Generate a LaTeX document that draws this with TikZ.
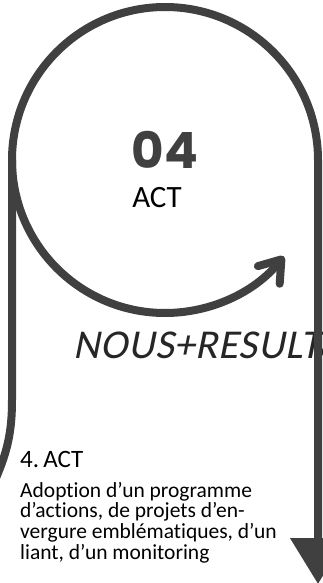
\documentclass[tikz,border=0pt]{standalone}
\usepackage{fontspec}
\setmainfont{Carlito}[Ligatures=NoCommon]
\newfontfamily\numfont{Poppins}
\newfontfamily\slantfont{Carlito}[FakeSlant=0.2,LetterSpace=1.6]
\usetikzlibrary{arrows.meta}
\definecolor{loopgray}{HTML}{404040}
\definecolor{textgray}{HTML}{262626}
\begin{document}
\begin{tikzpicture}[x=1pt,y=1pt,
	band/.style={draw=loopgray,line width=8pt},
	every node/.style={inner sep=0pt}]
	\def\rad{153}
	\def\left{12}
	\def\right{318}
	\def\mid{160}
	\useasboundingbox (0,0) rectangle (323,-583);
	\clip (0,0) rectangle (323,-583);
		% texts
		\node (num) [text=loopgray] at (165,-150) {\numfont\bfseries\fontsize{50}{50}\selectfont 04};
		\node (act) at (157,-198) {\fontsize{31}{31}\selectfont ACT};
		\node (result) [anchor=base west,text=textgray] at (73,-358) {\slantfont\fontsize{41}{41}\selectfont NOUS+RESULTATS};
		\node (title) [anchor=base west] at (20,-467) {\fontsize{25}{25}\selectfont 4.\,ACT};
		\foreach \txt [count=\i from 0] in {{Adoption d’un programme},{d’actions, de projets d’en-},{vergure emblématiques, d’un},{liant, d’un monitoring}}
			\node (body\i) [anchor=base west] at (20,-497-20.7*\i) {\fontsize{21.5}{21.5}\selectfont \txt};
		% outer band
		\draw [band,-{Triangle[length=46pt,width=54pt]}] (-4,-478) .. controls (8,-450) and (\left,-430) .. (\left,-400) -- (\left,-\mid) arc [start angle=180,end angle=0,radius=\rad] -- (\right,-584);
		% inner loop
		\draw [band,line cap=round,-{Straight Barb[length=20pt,width=28pt,round]}] (\left,-\mid) arc [start angle=180,end angle=321,radius=\rad];
\end{tikzpicture}
\end{document}
